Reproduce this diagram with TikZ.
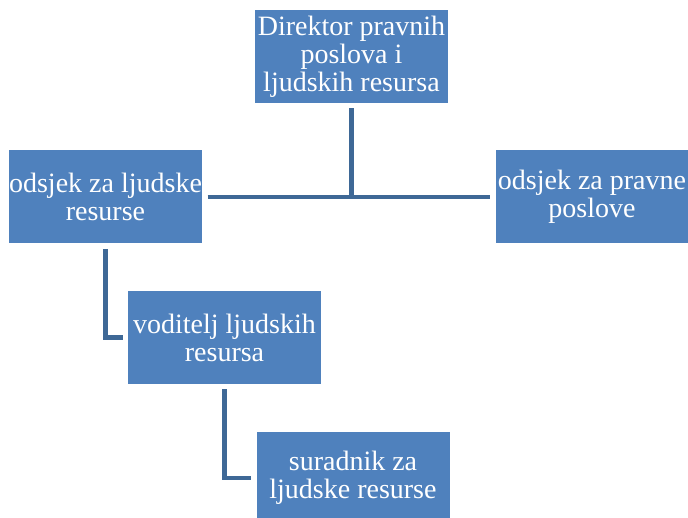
\documentclass[tikz,border=0pt]{standalone}
\usepackage{fontspec}
\setmainfont{Liberation Serif}
\definecolor{boxblue}{RGB}{79,129,189}
\definecolor{linkblue}{RGB}{62,104,150}
\tikzset{
  unit/.style={rectangle,fill=boxblue,text=white,minimum width=193pt,minimum height=93pt,
    inner sep=0pt,outer sep=5.5pt,align=center,font=\fontsize{28}{28}\selectfont},
  link/.style={draw=linkblue,line width=4.6pt}
}

\begin{document}
\begin{tikzpicture}[x=1pt,y=-1pt]
\useasboundingbox (0,0) rectangle (688,518);
\node[unit] (dir) at (351.5,56.5) {Direktor pravnih\\poslova i\\ljudskih resursa};
\node[unit] (lj) at (105.5,197) {odsjek za ljudske\\resurse};
\node[unit] (pr) at (592,197) {odsjek za pravne\\poslove};
\node[unit] (vod) at (224.5,337.5) {voditelj ljudskih\\resursa};
\node[unit] (sur) at (353,478) {suradnik za\\ljudske resurse};
\draw[link] (lj.east) -- (pr.west);
\draw[link] (dir.south) -- (dir.south |- lj.east);
\draw[link] (lj.south) |- (vod.west);
\draw[link] (vod.south) |- (sur.west);
\end{tikzpicture}
\end{document}
